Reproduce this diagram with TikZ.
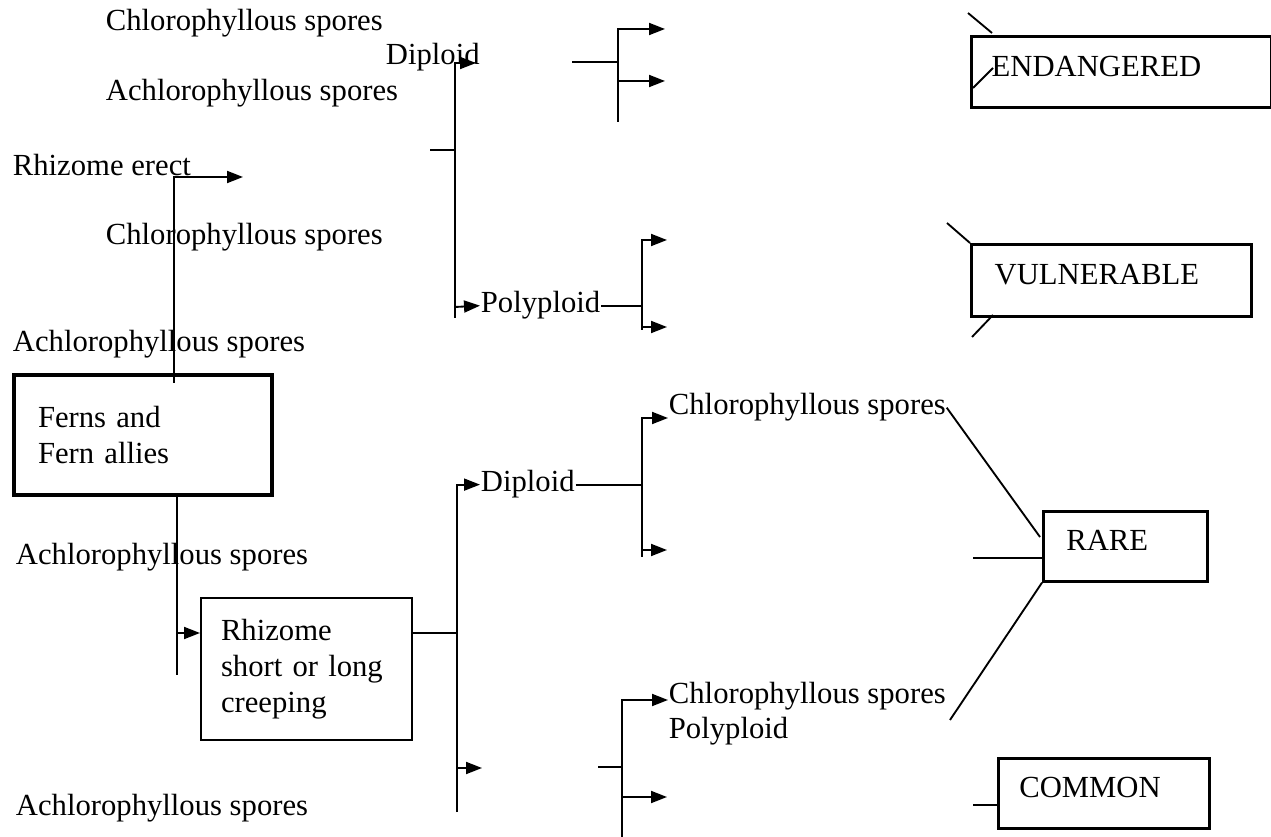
\documentclass[tikz,border=0pt]{standalone}
\usepackage{fontspec}
\setmainfont{Liberation Serif}
\usetikzlibrary{arrows.meta}

\tikzset{every picture/.style={line width=1.4pt}}
\tikzset{
  lbl/.style={anchor=base west, inner sep=0pt, font=\fontsize{23}{27}\selectfont},
  arr/.style={-{Triangle[length=12pt,width=9pt]}},
  box/.style={draw, anchor=north west, align=left, inner ysep=0pt, font=\fontsize{23}{27}\selectfont},
  onebox/.style={box, text depth=9pt},
}

\begin{document}
\begin{tikzpicture}[x=0.75pt,y=0.75pt,yscale=-1,xscale=1]
        \useasboundingbox (0,0) rectangle (1271,837);

        %Shape: Rectangle [id:ferns]
        \node[box, line width=3pt, text width=157.5pt, inner xsep=18pt, minimum height=90pt] (ferns) at (12,373) {Ferns and\\Fern allies};
        %Shape: Rectangle [id:creep]
        \node[box, line width=1.5pt, text width=128.25pt, inner xsep=15pt, minimum height=106.5pt] (creep) at (200,597) {Rhizome\\short or long\\creeping};
        %Shape: Rectangle [id:endang]
        \node[onebox, line width=2.5pt, text width=195pt, inner xsep=15pt, minimum height=53.25pt] (endang) at (970,35) {ENDANGERED};
        %Shape: Rectangle [id:vuln]
        \node[onebox, line width=2.5pt, text width=175.5pt, inner xsep=17.25pt, minimum height=54pt] (vuln) at (970,243) {VULNERABLE};
        %Shape: Rectangle [id:rare]
        \node[onebox, line width=2pt, text width=88.5pt, inner xsep=17.25pt, minimum height=52.5pt] (rare) at (1042,510) {RARE};
        %Shape: Rectangle [id:common]
        \node[onebox, line width=2pt, text width=126.75pt, inner xsep=15.75pt, minimum height=52.5pt] (common) at (997,757) {COMMON};

        % Text Node
        \node[lbl] (chlA) at (105,31) {Chlorophyllous spores};
        % Text Node
        \node[lbl] (dipA) at (385,65) {Diploid};
        % Text Node
        \node[lbl] (achA) at (105,101) {Achlorophyllous spores};
        % Text Node
        \node[lbl] (erect) at (12,176) {Rhizome erect};
        % Text Node
        \node[lbl] (chlB) at (105,245) {Chlorophyllous spores};
        % Text Node
        \node[lbl] (polyA) at (480,313) {Polyploid};
        % Text Node
        \node[lbl] (achB) at (12,352) {Achlorophyllous spores};
        % Text Node
        \node[lbl] (achC) at (15,565) {Achlorophyllous spores};
        % Text Node
        \node[lbl] (achD) at (15,815) {Achlorophyllous spores};
        % Text Node
        \node[lbl] (dipB) at (480,492) {Diploid};
        % Text Node
        \node[lbl] (chlC) at (668,415) {Chlorophyllous spores};
        % Text Node
        \node[lbl] (chlD) at (668,703) {Chlorophyllous spores};
        % Text Node
        \node[lbl] (polyB) at (668,738) {Polyploid};

        %Straight Lines [id:erect]
        \coordinate (e0) at (174,383);
        \coordinate (e1) at (174,177);
        \coordinate (e2) at (243,177);
        \draw[arr] (e0) -- (e1) -- (e2);

        %Straight Lines [id:ferns-creep]
        \coordinate (f1) at (177,633);
        \coordinate (f2) at (177,675);
        \draw (ferns.south -| f1) -- (f2);
        \draw[arr] (f1) -- (f1 -| creep.west);

        %Straight Lines [id:creep-branch]
        \coordinate (g1) at (457,633);
        \coordinate (g2) at (457,768);
        \coordinate (g3) at (457,812);
        \coordinate (g4) at (482,768);
        \draw (creep.east |- g1) -- (g1);
        \draw[arr] (g3) -- (g1 |- dipB.west) -- (dipB.west);
        \draw[arr] (g2) -- (g4);

        %Straight Lines [id:diploid-branch]
        \coordinate (h0) at (642,418);
        \coordinate (h1) at (642,557);
        \coordinate (h2) at (642,550);
        \coordinate (h3) at (667,550);
        \draw (dipB.east) -- (dipB.east -| h0);
        \draw[arr] (h1) -- (h0) -- (chlC.west |- h0);
        \draw[arr] (h2) -- (h3);

        %Straight Lines [id:lower-branch]
        \coordinate (k0) at (598,767);
        \coordinate (k1) at (622,767);
        \coordinate (k2) at (622,700);
        \coordinate (k3) at (622,797);
        \coordinate (k4) at (622,840);
        \coordinate (k5) at (667,797);
        \draw (k0) -- (k1);
        \draw[arr] (k4) -- (k2) -- (chlD.west |- k2);
        \draw[arr] (k3) -- (k5);

        %Straight Lines [id:upper-branch]
        \coordinate (m0) at (455,63);
        \coordinate (m1) at (455,150);
        \coordinate (m2) at (430,150);
        \coordinate (m3) at (455,318);
        \coordinate (m4) at (455,307);
        \coordinate (m5) at (476,63);
        \draw[arr] (m3) -- (m0) -- (m5);
        \draw (m2) -- (m1);
        \draw[arr] (m4) -- (polyA.west);

        %Straight Lines [id:polyploid-branch]
        \coordinate (n0) at (642,240);
        \coordinate (n2) at (642,330);
        \coordinate (n3) at (642,327);
        \coordinate (n4) at (667,240);
        \coordinate (n5) at (667,327);
        \draw (polyA.east) -- (polyA.east -| n0);
        \draw[arr] (n2) -- (n0) -- (n4);
        \draw[arr] (n3) -- (n5);

        %Straight Lines [id:top-branch]
        \coordinate (p0) at (572,62);
        \coordinate (p1) at (618,62);
        \coordinate (p2) at (618,29);
        \coordinate (p3) at (618,122);
        \coordinate (p4) at (618,81);
        \coordinate (p5) at (665,29);
        \coordinate (p6) at (665,81);
        \draw (p0) -- (p1);
        \draw[arr] (p3) -- (p2) -- (p5);
        \draw[arr] (p4) -- (p6);

        %Straight Lines [id:endang]
        \coordinate (q1) at (968,13);
        \coordinate (q2) at (992,33);
        \coordinate (q3) at (973,88);
        \coordinate (q4) at (993,68);
        \draw (q1) -- (q2);
        \draw (q3) -- (q4);

        %Straight Lines [id:vuln]
        \coordinate (v1) at (947,223);
        \coordinate (v2) at (972,337);
        \coordinate (v3) at (993,315);
        \draw (v1) -- (vuln.north west);
        \draw (v2) -- (v3);

        %Straight Lines [id:rare]
        \coordinate (r1) at (1040,537);
        \coordinate (r2) at (973,558);
        \coordinate (r3) at (950,720);
        \draw (chlC.east) -- (r1);
        \draw (r2) -- (rare.west |- r2);
        \draw (r3) -- (rare.south west);

        %Straight Lines [id:common]
        \coordinate (c1) at (973,805);
        \draw (c1) -- (common.west |- c1);

\end{tikzpicture}
\end{document}
